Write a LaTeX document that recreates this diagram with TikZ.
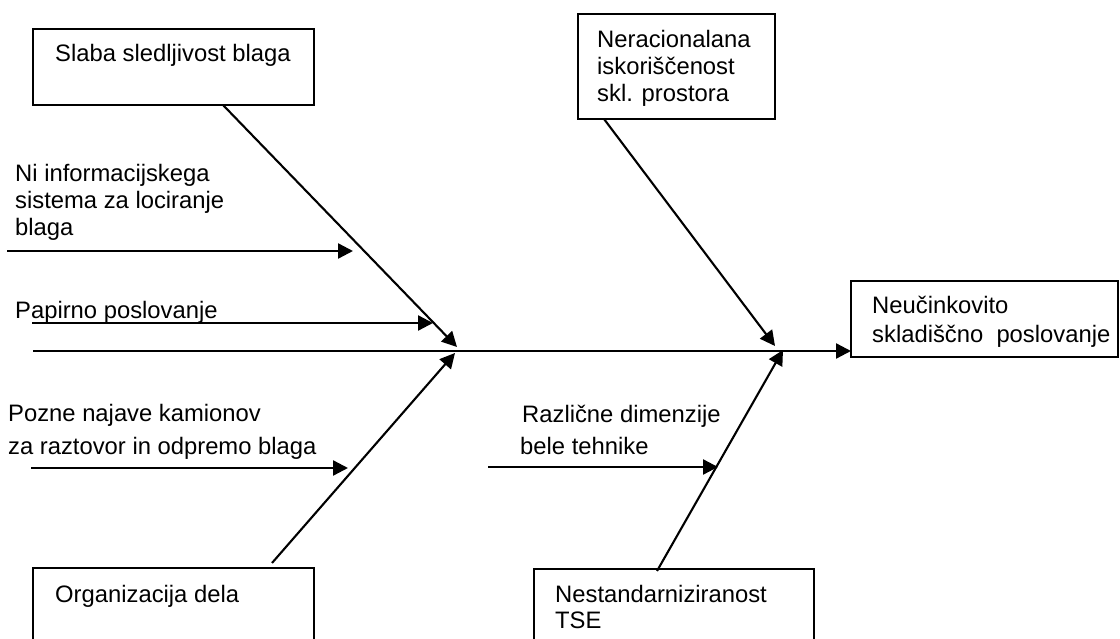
\documentclass[tikz,border=0pt]{standalone}
\usepackage{fontspec}
\setmainfont{Liberation Sans}
\usetikzlibrary{arrows.meta,calc}
\newcommand{\fsz}{\fontsize{23.8}{28}\selectfont}
\tikzset{
  box/.style={draw, line width=2pt, anchor=north west, inner sep=0pt, outer sep=0pt},
  lbl/.style={anchor=base west, inner sep=0pt, font=\fsz},
  arr/.style={-{Triangle[length=15pt,width=15pt]}, line width=2.4pt},
  bone/.style={line width=2.1pt},
}
\begin{document}
\begin{tikzpicture}[x=1pt,y=-1pt]
\useasboundingbox (0,0) rectangle (1120,639);
% boxes
\node[box, minimum width=281pt, minimum height=76pt] (slaba) at (33,29) {};
\node[box, minimum width=197pt, minimum height=105pt] (nerac) at (578,14) {};
\node[box, minimum width=267pt, minimum height=76pt] (neuc) at (851,281) {};
\node[box, minimum width=281pt, minimum height=80pt] (org) at (33,568) {};
\node[box, minimum width=280pt, minimum height=80pt] (nest) at (534,569) {};
% texts
\node[lbl] (t1) at (55,62) {Slaba sledljivost blaga};
\node[lbl] (t2a) at (597,48) {Neracionalana};
\node[lbl] (t2b) at (597,75) {iskoriščenost};
\node[lbl] (t2c) at (597,102) {skl. prostora};
\node[lbl] (t3a) at (872,314) {Neučinkovito};
\node[lbl] (t3b) at (872,342) {skladiščno\ \ poslovanje};
\node[lbl] (t4a) at (15,182) {Ni informacijskega};
\node[lbl] (t4b) at (15,209) {sistema za lociranje};
\node[lbl] (t4c) at (15,236) {blaga};
\node[lbl] (t5) at (15,319) {Papirno poslovanje};
\node[lbl] (t6a) at (8,421) {Pozne najave kamionov};
\node[lbl] (t6b) at (8,454) {za raztovor in odpremo blaga};
\node[lbl] (t7a) at (522,422) {Različne dimenzije};
\node[lbl] (t7b) at (520,454) {bele tehnike};
\node[lbl] (t8) at (55,602) {Organizacija dela};
\node[lbl] (t9a) at (555,602) {Nestandarniziranost};
\node[lbl] (t9b) at (555,628) {TSE};
% junction coordinates
\coordinate (spineS) at (33,351);
\coordinate (jUL) at (457,347);
\coordinate (jLL) at (455,353);
\coordinate (jUR) at (775,346);
\coordinate (jLR) at (783,350);
\coordinate (niS) at (7,251);
\coordinate (niE) at (353,251);
\coordinate (paS) at (32,323);
\coordinate (paE) at (433,323);
\coordinate (poS) at (31,468);
\coordinate (poE) at (348,468);
\coordinate (raS) at (488,467);
\coordinate (raE) at (718,467);
\coordinate (orgS) at (272,563);
% spine
\draw[arr] (spineS) -- (spineS -| neuc.west);
% main bones
\draw[arr, bone] ($(slaba.south west)+(190,0)$) -- (jUL);
\draw[arr, bone] (orgS) -- (jLL);
\draw[arr, bone] ($(nerac.south west)+(26,0)$) -- (jUR);
\draw[arr, bone] ($(nest.north west)+(123,2)$) -- (jLR);
% sub-causes
\draw[arr] (niS) -- (niE);
\draw[arr] (paS) -- (paE);
\draw[arr] (poS) -- (poE);
\draw[arr] (raS) -- (raE);
\end{tikzpicture}
\end{document}
